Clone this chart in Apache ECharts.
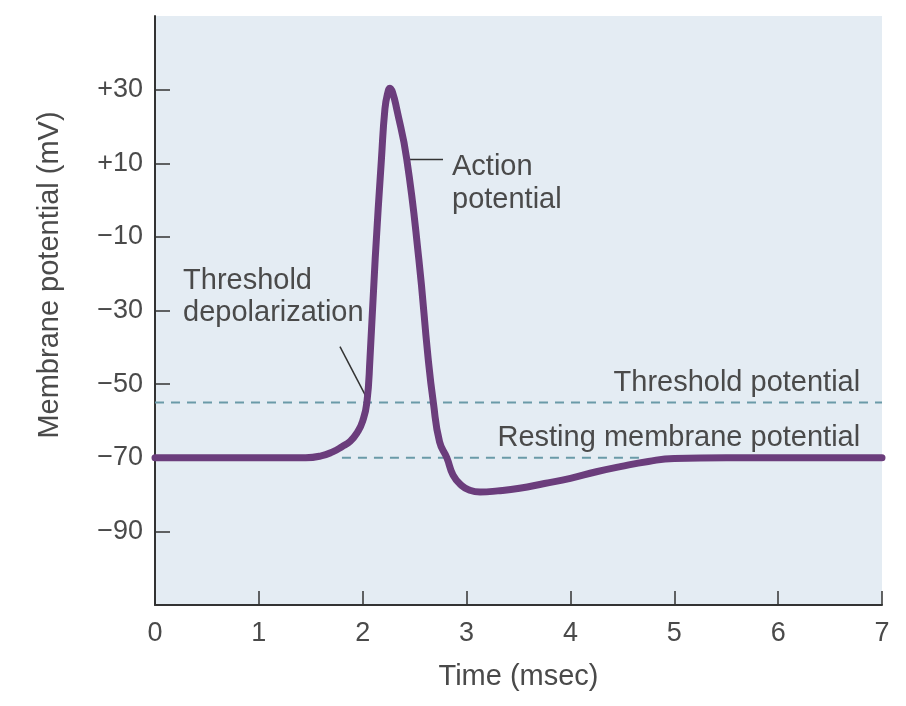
<!DOCTYPE html>
<html>
<head>
<meta charset="utf-8">
<script src="https://cdn.jsdelivr.net/npm/echarts@6/dist/echarts.min.js"></script>
<style>
html,body{margin:0;padding:0;background:#fff;}
#c{width:906px;height:706px;}
</style>
</head>
<body>
<div id="c"></div>
<script>
// ---- data ----
var timeMs = [0, 1.45, 1.6, 1.71, 1.8, 1.88, 1.95, 2.0, 2.04, 2.07, 2.12, 2.18, 2.214, 2.24, 2.263, 2.29, 2.327, 2.423, 2.54, 2.63, 2.68, 2.74, 2.81, 2.87, 2.95, 3.03, 3.13, 3.3, 3.51, 3.75, 4.0, 4.25, 4.48, 4.75, 5.0, 5.5, 7];
var potentialMv = [-70, -70, -69.5, -68.4, -67, -65.5, -63, -60, -55, -43, -16, 11, 24.8, 29, 30.4, 29, 24.8, 11.3, -16, -43, -55, -65.7, -70, -74.7, -77.5, -78.8, -79.3, -79, -78.3, -77, -75.6, -73.8, -72.4, -71, -70.2, -70, -70];
var xTicks = [0, 1, 2, 3, 4, 5, 6, 7];
var yTicks = [-90, -70, -50, -30, -10, 10, 30];
var thresholdMv = -55;
var restingMv = -70;
var restingLineSpan = [1.8, 4.67];
var annotations = [
  {text: 'Action', t: 2.86, v: 9.1, align: 'left'},
  {text: 'potential', t: 2.86, v: -0.1, align: 'left'},
  {text: 'Threshold', t: 0.27, v: -22.1, align: 'left'},
  {text: 'depolarization', t: 0.27, v: -30.8, align: 'left'},
  {text: 'Threshold potential', t: 6.79, v: -49.6, align: 'right'},
  {text: 'Resting membrane potential', t: 6.79, v: -64.5, align: 'right'}
];
var leaders = [
  [[2.436, 11.0], [2.773, 11.0]],
  [[1.781, -39.8], [2.051, -54.4]]
];

var FONT = "'Liberation Sans', Arial, Helvetica, sans-serif";
var TXT = '#4a4a4a';
var chart = echarts.init(document.getElementById('c'), null, {renderer: 'canvas'});

function fmtY(v) {
  if (v > 0) return '+' + v;
  if (v < 0) return '\u2212' + Math.abs(v);
  return '0';
}

chart.setOption({
  animation: false,
  backgroundColor: '#ffffff',
  grid: {left: 155, right: 24, top: 16, bottom: 101, show: true, backgroundColor: '#e4ecf3', borderWidth: 0},
  xAxis: {
    type: 'value', min: 0, max: 7, interval: 1,
    name: 'Time (msec)', nameLocation: 'middle', nameGap: 57, nameMoveOverlap: false,
    nameTextStyle: {fontFamily: FONT, fontSize: 29, color: TXT},
    axisLine: {onZero: false, lineStyle: {color: '#333', width: 2}},
    axisTick: {inside: true, length: 14, lineStyle: {color: '#333', width: 1.5}},
    axisLabel: {margin: 15, fontFamily: FONT, fontSize: 27, color: TXT,
      customValues: xTicks},
    splitLine: {show: false}
  },
  yAxis: {
    type: 'value', min: -110, max: 50, interval: 20,
    axisLine: {show: true, onZero: false, lineStyle: {color: '#333', width: 2}},
    axisTick: {show: true, inside: true, length: 15, lineStyle: {color: '#333', width: 1.5}, customValues: yTicks},
    axisLabel: {margin: 12, fontFamily: FONT, fontSize: 27, color: TXT, customValues: yTicks, formatter: fmtY},
    splitLine: {show: false}
  },
  series: [
    {
      type: 'line', data: [[0, thresholdMv], [7, thresholdMv]], symbol: 'none', silent: true,
      lineStyle: {color: '#6a9aa8', width: 2, type: [9, 7]}
    },
    {
      type: 'line', data: [[restingLineSpan[0], restingMv], [restingLineSpan[1], restingMv]], symbol: 'none', silent: true,
      lineStyle: {color: '#6a9aa8', width: 2, type: [9, 7]}
    },
    {
      type: 'line', data: timeMs.map(function (t, i) { return [t, potentialMv[i]]; }),
      symbol: 'none', smooth: 0.5,
      lineStyle: {color: '#6b3d7c', width: 7, cap: 'round', join: 'round'}
    }
  ]
});

function px(p) { return chart.convertToPixel({gridIndex: 0}, p); }
var g = [];
annotations.forEach(function (a) {
  var p = px([a.t, a.v]);
  g.push({type: 'text', x: p[0], y: p[1], silent: true,
    style: {text: a.text, fontFamily: FONT, fontSize: 29, fill: TXT, align: a.align, verticalAlign: 'middle'}});
});
leaders.forEach(function (l) {
  var a = px(l[0]), b = px(l[1]);
  g.push({type: 'line', silent: true, shape: {x1: a[0], y1: a[1], x2: b[0], y2: b[1]},
    style: {stroke: '#333', lineWidth: 1.5}});
});
g.push({type: 'text', x: 50, y: 275, rotation: Math.PI / 2, silent: true,
  style: {text: 'Membrane potential (mV)', fontFamily: FONT, fontSize: 29, fill: TXT, align: 'center', verticalAlign: 'middle'}});
chart.setOption({graphic: g});
</script>
</body>
</html>
